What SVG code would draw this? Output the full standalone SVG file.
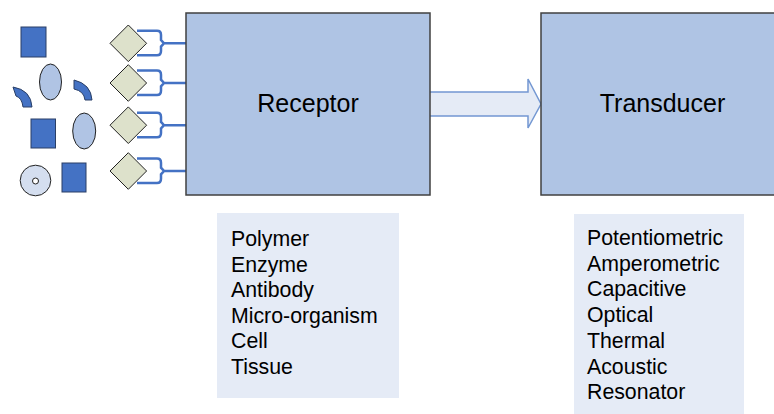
<svg xmlns="http://www.w3.org/2000/svg" width="774" height="414" viewBox="0 0 774 414">
<style>
.box{fill:#AFC4E4;stroke:#404040;stroke-width:1.5}
.list{fill:#E5EBF6}
.lbl{font-family:"Liberation Sans",Arial,sans-serif;font-size:25px;fill:#000}
.item{font-family:"Liberation Sans",Arial,sans-serif;font-size:21.3px;fill:#000}
.sq{fill:#4472C4;stroke:#2A3F66;stroke-width:1}
.ell{fill:#B0C4E4;stroke:#222;stroke-width:1}
.dia{fill:#DDE1CB;stroke:#222;stroke-width:1}
.fork{fill:none;stroke:#4472C4;stroke-width:2.5}
</style>
<rect width="774" height="414" fill="#fff"/>
<g id="connectors">
  <path d="M429,92 H528 V79 L541,104 L528,128 V116 H429" fill="#E5EBF6" stroke="#7397D2" stroke-width="1.5"/>
  <g id="forks">
    <path class="fork" d="M137,30.8 H157 Q161,30.8 161,35 V40 L164,43.3 L161,46.6 V51 Q161,55.3 157,55.3 H137 M164,43.3 H186"/>
    <path class="fork" d="M137,70.5 H157 Q161,70.5 161,74.7 V79.7 L164,83 L161,86.3 V90.7 Q161,95 157,95 H137 M164,83 H186"/>
    <path class="fork" d="M137,112.7 H157 Q161,112.7 161,116.9 V121.9 L164,125.2 L161,128.5 V132.9 Q161,137.2 157,137.2 H137 M164,125.2 H186"/>
    <path class="fork" d="M137,158.5 H157 Q161,158.5 161,162.7 V167.7 L164,171 L161,174.3 V178.7 Q161,183 157,183 H137 M164,171 H186"/>
  </g>
</g>
<g id="receptor">
  <rect class="box" x="186" y="13" width="244" height="182"/>
  <text class="lbl" x="308" y="112" text-anchor="middle">Receptor</text>
</g>
<g id="transducer">
  <rect class="box" x="541" y="13" width="240" height="182"/>
  <text class="lbl" x="662.5" y="112" text-anchor="middle">Transducer</text>
</g>
<g id="receptor-list">
  <rect class="list" x="217" y="213" width="182" height="185"/>
  <text class="item" x="231" y="246">Polymer</text>
  <text class="item" x="231" y="271.5">Enzyme</text>
  <text class="item" x="231" y="297">Antibody</text>
  <text class="item" x="231" y="322.5">Micro-organism</text>
  <text class="item" x="231" y="348">Cell</text>
  <text class="item" x="231" y="373.5">Tissue</text>
</g>
<g id="transducer-list">
  <rect class="list" x="574" y="214" width="170" height="200"/>
  <text class="item" x="587" y="245">Potentiometric</text>
  <text class="item" x="587" y="270.7">Amperometric</text>
  <text class="item" x="587" y="296.4">Capacitive</text>
  <text class="item" x="587" y="322.1">Optical</text>
  <text class="item" x="587" y="347.8">Thermal</text>
  <text class="item" x="587" y="373.5">Acoustic</text>
  <text class="item" x="587" y="399.2">Resonator</text>
</g>
<g id="diamonds">
  <polygon class="dia" points="128.3,25 146.6,43.3 128.3,61.6 110,43.3"/>
  <polygon class="dia" points="128.3,64.7 146.6,83 128.3,101.3 110,83"/>
  <polygon class="dia" points="128.3,106.9 146.6,125.2 128.3,143.5 110,125.2"/>
  <polygon class="dia" points="128.3,152.7 146.6,171 128.3,189.3 110,171"/>
</g>
<g id="analytes">
  <rect class="sq" x="21" y="27" width="25" height="30"/>
  <ellipse class="ell" cx="50.5" cy="82" rx="11" ry="18"/>
  <path class="sq" d="M13,87 Q31,90 32,107 L23,107 Q22,98 16,96 Z"/>
  <path class="sq" d="M74,80 Q91,84 92,100 L85,100 Q84,91 74,89 Z"/>
  <rect class="sq" x="31" y="119" width="24.5" height="29"/>
  <ellipse class="ell" cx="84.2" cy="131" rx="11.5" ry="18"/>
  <circle cx="35.5" cy="180.5" r="15.3" fill="#D4DEEF" stroke="#222" stroke-width="1"/>
  <circle cx="35.5" cy="181" r="3" fill="#fff" stroke="#222" stroke-width="1"/>
  <rect class="sq" x="62" y="163" width="24" height="29"/>
</g>
</svg>
